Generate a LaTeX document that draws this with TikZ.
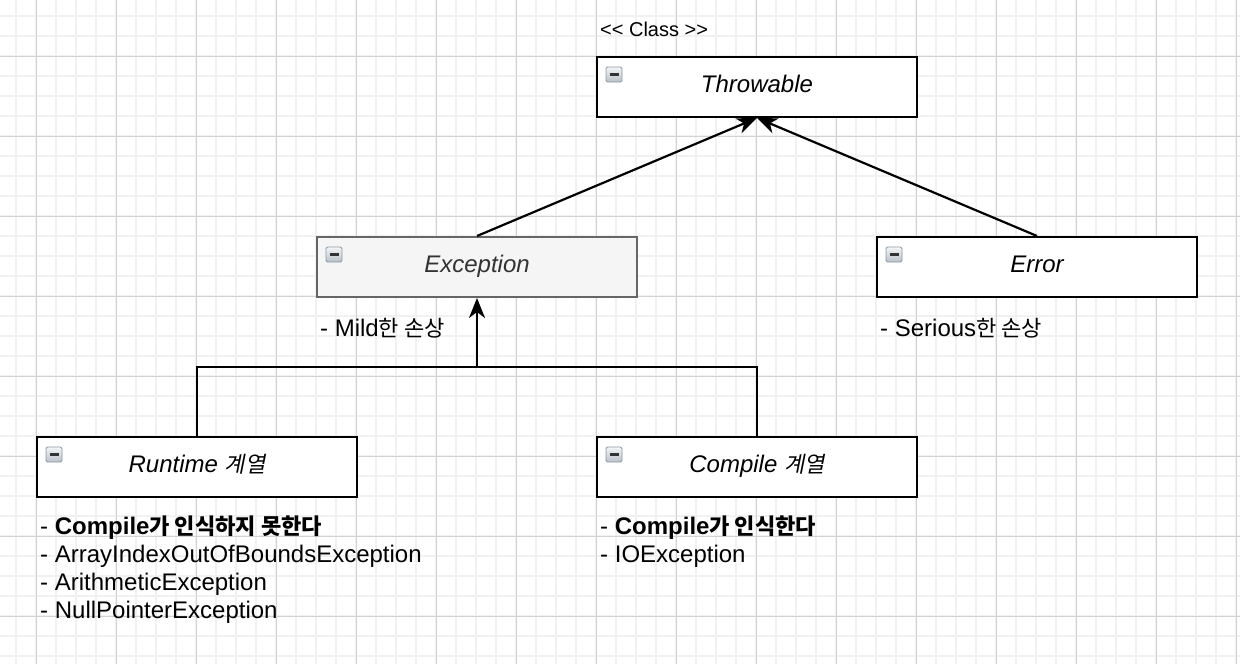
\documentclass[tikz,border=0pt]{standalone}
\usepackage{fontspec}
\setmainfont{Liberation Sans}
\newfontfamily\kr{Noto Sans CJK KR}[Scale=0.92]
\newfontfamily\krit{Noto Sans CJK KR}[Scale=0.92,FakeSlant=0.2]
\usetikzlibrary{arrows.meta}
\definecolor{gridminor}{HTML}{F1F1F1}
\definecolor{gridmajor}{HTML}{D2D2D2}
\definecolor{excfill}{HTML}{F5F5F5}
\definecolor{excline}{HTML}{666666}
\definecolor{exctext}{HTML}{333333}
\definecolor{iconline}{HTML}{8C99A6}
\definecolor{icontop}{HTML}{F4F6F8}
\definecolor{iconbot}{HTML}{B8C0C8}
\tikzset{
  clsbox/.style={draw=black, fill=white, line width=2pt, minimum width=320, minimum height=60,
    inner sep=0pt, text height=16, text depth=6,
    font=\fontsize{24}{28}\selectfont\itshape},
  excbox/.style={clsbox, draw=excline, fill=excfill, text=exctext},
  edge/.style={draw=black, line width=2.2pt},
  tip/.style={-{Stealth[length=20pt,width=16pt,inset=6pt]}},
  txt/.style={inner sep=0pt, anchor=base west,
    font=\fontsize{24}{28}\selectfont},
}
\begin{document}
\begin{tikzpicture}[x=1pt,y=-1pt]
\useasboundingbox (0,0) rectangle (1240,664);
\fill[white] (0,0) rectangle (1240,664);
% grid
\foreach \gx in {16,36,...,1236} \draw[gridminor,line width=1.5pt] (\gx,0) -- (\gx,664);
\foreach \gy in {16,36,...,656} \draw[gridminor,line width=1.5pt] (0,\gy) -- (1240,\gy);
\foreach \gx in {36,116,...,1236} \draw[gridmajor,line width=1pt] (\gx,0) -- (\gx,664);
\foreach \gy in {56,136,...,656} \draw[gridmajor,line width=1pt] (0,\gy) -- (1240,\gy);

% boxes
\node[clsbox] (thr) at (757,87) {Throwable};
\node[excbox] (exc) at (477,267) {Exception};
\node[clsbox] (err) at (1037,267) {Error};
\node[clsbox] (run) at (197,467) {Runtime {\krit 계열}};
\node[clsbox] (comp) at (757,467) {Compile {\krit 계열}};

% collapse icons
\foreach \n in {thr,exc,err,run,comp}{
  \draw[iconline, line width=0.8pt, rounded corners=1.5pt, top color=icontop, bottom color=iconbot]
    ([shift={(10,11)}]\n.north west) rectangle ([shift={(26,26)}]\n.north west);
  \draw[black!80, line width=2.8pt] ([shift={(13.5,18.5)}]\n.north west) -- ([shift={(22.5,18.5)}]\n.north west);
}

% connectors
\draw[edge,tip] (exc.north) -- (thr.south);
\draw[edge,tip] (err.north) -- (thr.south);
\coordinate (join) at (477,367);
\draw[edge] (run.north) |- (join);
\draw[edge] (comp.north) |- (join);
\draw[edge,tip] (join) -- (exc.south);

% texts
\node[txt, font=\fontsize{20}{24}\selectfont] (stereo) at (600,36) {<{}< Class >{}>};
\node[txt] (mild) at (320,336) {- Mild{\kr 한 손상}};
\node[txt] (serious) at (880,336) {- Serious{\kr 한 손상}};
\node[txt] (runA) at (40,534) {- {\bfseries Compile\kr 가 인식하지 못한다}};
\node[txt] (runB) at (40,562) {- ArrayIndexOutOfBoundsException};
\node[txt] (runC) at (40,590) {- ArithmeticException};
\node[txt] (runD) at (40,618) {- NullPointerException};
\node[txt] (compA) at (600,534) {- {\bfseries Compile\kr 가 인식한다}};
\node[txt] (compB) at (600,562) {- IOException};
\end{tikzpicture}
\end{document}
